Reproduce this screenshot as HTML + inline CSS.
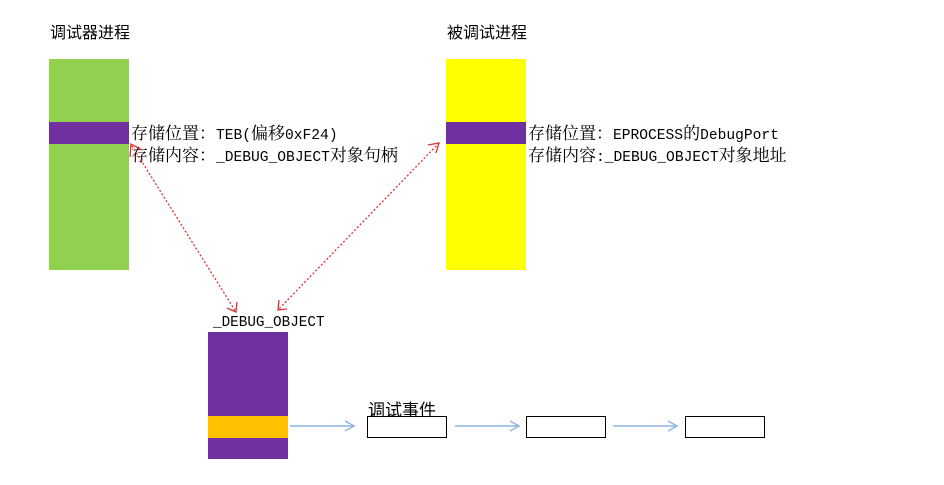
<!DOCTYPE html>
<html><head><meta charset="utf-8"><style>
body{margin:0;width:944px;height:485px;background:#fff;position:relative;overflow:hidden;font-family:"Liberation Serif","Noto Serif CJK SC",serif;color:#000}
.a{position:absolute}
.t{position:absolute;font-size:17px;line-height:22px;white-space:nowrap;font-family:"Noto Serif CJK SC",serif}
.t span,.m{font-family:"Liberation Mono",monospace;font-size:14.6px}
.h{position:absolute;font-family:"Liberation Sans","Noto Sans CJK SC",sans-serif;font-size:16px;white-space:nowrap}
.box{position:absolute;border:1px solid #000;background:#fff;width:78px;height:20px;top:416px}
</style></head><body>
<div class="h" style="left:50px;top:19px">调试器进程</div>
<div class="h" style="left:447px;top:19px">被调试进程</div>
<div class="a" style="left:49px;top:59px;width:80px;height:211px;background:#92d050"></div>
<div class="a" style="left:49px;top:122px;width:80px;height:22px;background:#7030a0"></div>
<div class="a" style="left:446px;top:59px;width:80px;height:211px;background:#ffff00"></div>
<div class="a" style="left:446px;top:122px;width:80px;height:22px;background:#7030a0"></div>
<div class="t" style="left:131px;top:121px">存储位置：<span>TEB(</span>偏移<span>0xF24)</span></div>
<div class="t" style="left:131px;top:143px">存储内容：<span>_DEBUG_OBJECT</span>对象句柄</div>
<div class="t" style="left:528px;top:121px">存储位置：<span>EPROCESS</span>的<span>DebugPort</span></div>
<div class="t" style="left:528px;top:143px">存储内容<span>:_DEBUG_OBJECT</span>对象地址</div>
<div class="a m" style="left:213px;top:315px;font-size:14.3px">_DEBUG_OBJECT</div>
<div class="a" style="left:208px;top:332px;width:80px;height:127px;background:#7030a0"></div>
<div class="a" style="left:208px;top:416px;width:80px;height:22px;background:#ffc000"></div>
<div class="h" style="left:368px;top:396px;font-size:17px">调试事件</div>
<div class="box" style="left:367px"></div>
<div class="box" style="left:526px"></div>
<div class="box" style="left:685px"></div>
<svg class="a" style="left:0;top:0" width="944" height="485">
<g stroke="#e03030" stroke-width="1.3" stroke-dasharray="2,2" fill="none">
<line x1="132" y1="146" x2="236" y2="312"/>
<line x1="439" y1="143" x2="278" y2="310"/>
</g>
<g stroke="#e03030" stroke-width="1.3" fill="none">
<polyline points="130,157 131,144 142,150"/>
<polyline points="227,308 236,312 237,302"/>
<polyline points="428,145 439,143 436,153"/>
<polyline points="279,300 278,310 287,309"/>
</g>
<g stroke="#8db4e2" stroke-width="1.5" fill="none">
<line x1="290" y1="426" x2="354" y2="426"/><polyline points="345,421 354,426 345,431"/>
<line x1="455" y1="426" x2="519" y2="426"/><polyline points="510,421 519,426 510,431"/>
<line x1="613" y1="426" x2="677" y2="426"/><polyline points="668,421 677,426 668,431"/>
</g>
</svg>
</body></html>
